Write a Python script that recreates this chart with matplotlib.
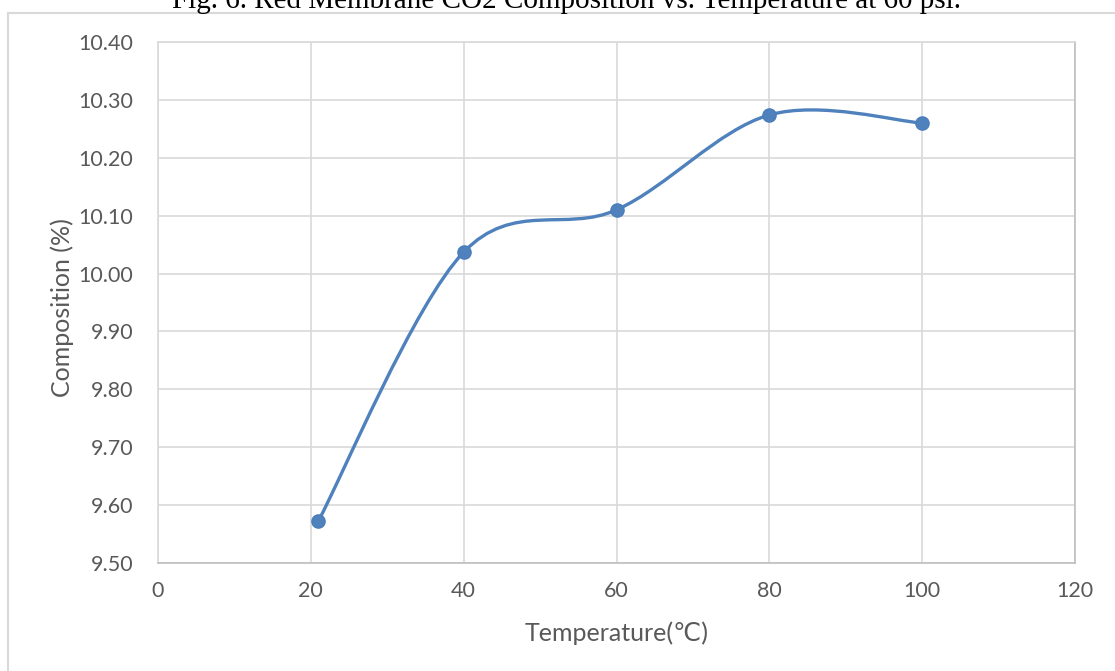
import numpy as np
import matplotlib.pyplot as plt
from matplotlib.path import Path
from matplotlib.patches import PathPatch
from matplotlib.lines import Line2D

# measured CO2 composition of the red membrane at 60 psi
temperature = [21, 40, 60, 80, 100]
composition = [9.573, 10.037, 10.110, 10.274, 10.260]

x_ticks = [0, 20, 40, 60, 80, 100, 120]
y_ticks = [9.50, 9.60, 9.70, 9.80, 9.90, 10.00, 10.10, 10.20, 10.30, 10.40]

title = "Fig. 6. Red Membrane CO2 Composition vs. Temperature at 60 psi."
line_color = "#4F81BD"
grid_color = "#D9D9D9"
text_color = "#595959"

plt.rcParams["font.family"] = ["Lato", "DejaVu Sans"]

fig = plt.figure(figsize=(11.15, 6.71), dpi=100)
ax = fig.add_axes([158 / 1115, 1 - 563 / 671, (1075 - 158) / 1115, (563 - 42) / 671])


def smooth_path(xs, ys):
    # catmull-rom style bezier, the same smoothing a spreadsheet line uses
    pts = np.column_stack([xs, ys]).astype(float)
    n = len(pts)
    verts = [pts[0]]
    codes = [Path.MOVETO]
    for i in range(n - 1):
        p_prev = pts[i - 1] if i > 0 else pts[i]
        p_next = pts[i + 2] if i + 2 < n else pts[i + 1]
        c1 = pts[i] + (pts[i + 1] - p_prev) / 6
        c2 = pts[i + 1] - (p_next - pts[i]) / 6
        verts += [c1, c2, pts[i + 1]]
        codes += [Path.CURVE4] * 3
    return Path(verts, codes)


ax.add_patch(PathPatch(smooth_path(temperature, composition), facecolor="none",
                       edgecolor=line_color, lw=2.4, capstyle="round", zorder=3))
ax.plot(temperature, composition, linestyle="none", marker="o", markersize=9.5,
        color=line_color, markeredgecolor="#4A7EBB", zorder=4)

ax.set_xlim(0, 120)
ax.set_ylim(9.5, 10.4)
ax.set_xticks(x_ticks)
ax.set_yticks(y_ticks)
ax.set_yticklabels([f"{v:.2f}" for v in y_ticks])
ax.grid(True, color=grid_color, lw=1.2)
ax.set_axisbelow(True)
ax.tick_params(length=0, labelsize=15.5, labelcolor=text_color)
ax.tick_params(axis="y", pad=18)
ax.tick_params(axis="x", pad=13)
for side in ["top", "left"]:
    ax.spines[side].set_color(grid_color)
for side in ["right", "bottom"]:
    ax.spines[side].set_color("#BFBFBF")
for s in ax.spines.values():
    s.set_linewidth(1.2)

ax.set_xlabel("Temperature(\u2103)", fontsize=18, color=text_color, va="center")
ax.set_ylabel("Composition (%)", fontsize=18, color=text_color, va="center")
ax.xaxis.set_label_coords(0.5, (563 - 633) / 521)
ax.yaxis.set_label_coords((62 - 158) / 917, 0.49)

# outer chart frame
fig.add_artist(Line2D([8 / 1115, 1], [1 - 13 / 671, 1 - 13 / 671], transform=fig.transFigure,
                      color=grid_color, lw=1.5))
fig.add_artist(Line2D([8 / 1115, 8 / 1115], [0, 1 - 13 / 671], transform=fig.transFigure,
                      color=grid_color, lw=1.5))

fig.text(566 / 1115, 1 - 8 / 671, title, ha="center", va="baseline",
         fontsize=21, family="Liberation Serif", color="black")

fig.savefig("out.png", dpi=100)
